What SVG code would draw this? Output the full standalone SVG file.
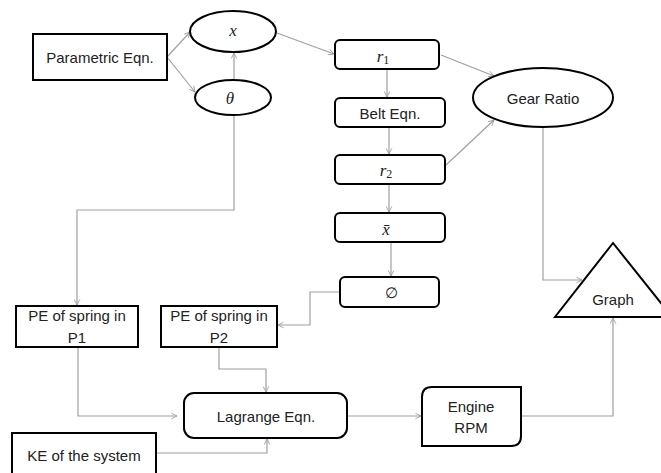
<svg xmlns="http://www.w3.org/2000/svg" width="661" height="473" viewBox="0 0 661 473">
<defs>
<marker id="ah" viewBox="0 0 10 10" refX="9" refY="5" markerWidth="7" markerHeight="7" orient="auto" markerUnits="userSpaceOnUse">
<path d="M1,1 L9,5 L1,9" fill="none" stroke="#999" stroke-width="1.2"/>
</marker>
<style>
.n{fill:#fff;stroke:#000;stroke-width:2}
.t{font-family:"Liberation Sans",Arial,sans-serif;font-size:15px;fill:#222;text-anchor:middle;dominant-baseline:central}
.m{font-family:"Liberation Serif","Times New Roman",serif;font-style:italic;font-size:17px;fill:#222;text-anchor:middle;dominant-baseline:central}
.c{fill:none;stroke:#a0a0a0;stroke-width:1.2;marker-end:url(#ah)}
</style>
</defs>
<rect width="661" height="473" fill="#fff"/>
<g id="connectors">
<path class="c" d="M167,57 L190,32"/>
<path class="c" d="M167,57 L195,92"/>
<path class="c" d="M234,80 L234,53"/>
<path class="c" d="M277,33 L334,54"/>
<path class="c" d="M234,115 L234,210 L77,210 L77,305"/>
<path class="c" d="M441,55 L494,76"/>
<path class="c" d="M387,69 L387,97"/>
<path class="c" d="M389,127 L389,154"/>
<path class="c" d="M446,165 L494,120"/>
<path class="c" d="M389,184 L389,212"/>
<path class="c" d="M391,242 L391,276"/>
<path class="c" d="M543,127 L543,280 L582,280"/>
<path class="c" d="M340,292 L310,292 L310,325 L278,325"/>
<path class="c" d="M219,347 L219,369 L266,369 L266,392"/>
<path class="c" d="M78,347 L78,416 L177,416"/>
<path class="c" d="M156,453 L267,453 L267,439"/>
<path class="c" d="M347,416 L421,416"/>
<path class="c" d="M521,416 L613,416 L613,318"/>
</g>
<g id="parametric"><rect class="n" x="33" y="34" width="134" height="46"/><text class="t" x="100" y="57">Parametric Eqn.</text></g>
<g id="x"><ellipse class="n" cx="233" cy="31.5" rx="43" ry="20.5"/><text class="m" x="233" y="30">x</text></g>
<g id="theta"><ellipse class="n" cx="233" cy="97.5" rx="38" ry="17.5"/><text class="m" x="230" y="98">θ</text></g>
<g id="r1"><rect class="n" x="335" y="40" width="104" height="29" rx="5"/><text class="m" x="383" y="56">r<tspan font-style="normal" font-size="12" dy="4">1</tspan></text></g>
<g id="belt"><rect class="n" x="335" y="98" width="110" height="29" rx="5"/><text class="t" x="390" y="113">Belt Eqn.</text></g>
<g id="r2"><rect class="n" x="335" y="155" width="110" height="29" rx="5"/><text class="m" x="386" y="170">r<tspan font-style="normal" font-size="12" dy="4">2</tspan></text></g>
<g id="xbar"><rect class="n" x="335" y="213" width="110" height="29" rx="5"/><text class="m" x="386" y="229">x̄</text></g>
<g id="phi"><rect class="n" x="340" y="277" width="99" height="30" rx="5"/><text class="t" x="391" y="292">∅</text></g>
<g id="gear"><ellipse class="n" cx="543" cy="97.5" rx="70" ry="29.5"/><text class="t" x="543" y="98">Gear Ratio</text></g>
<g id="graph"><path class="n" d="M613,243 L555,317 L672,317 Z"/><text class="t" x="613" y="299">Graph</text></g>
<g id="pe1"><rect class="n" x="16" y="306" width="122" height="41"/><text class="t" x="77" y="315">PE of spring in</text><text class="t" x="77" y="337">P1</text></g>
<g id="pe2"><rect class="n" x="161" y="306" width="116" height="41"/><text class="t" x="219" y="315">PE of spring in</text><text class="t" x="219" y="337">P2</text></g>
<g id="lagrange"><rect class="n" x="184" y="393" width="163" height="45" rx="10"/><text class="t" x="266" y="416">Lagrange Eqn.</text></g>
<g id="engine"><path class="n" d="M432,387 L521,387 L521,436 Q521,446 511,446 L422,446 L422,397 Q422,387 432,387 Z"/><text class="t" x="471" y="406">Engine</text><text class="t" x="471" y="427">RPM</text></g>
<g id="ke"><rect class="n" x="12" y="433" width="144" height="45"/><text class="t" x="84" y="455">KE of the system</text></g>
</svg>
